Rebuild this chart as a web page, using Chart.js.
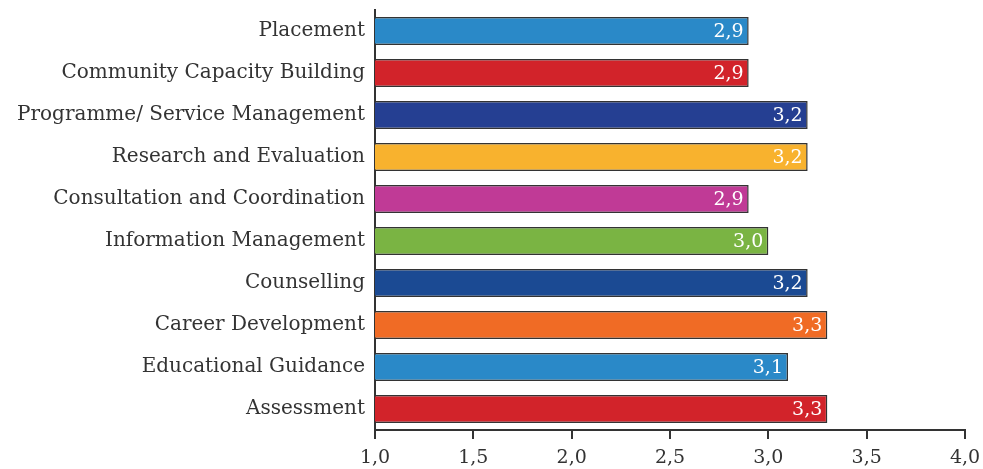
<!DOCTYPE html>
<html>
<head>
<meta charset="utf-8">
<script src="https://cdn.jsdelivr.net/npm/chart.js@4.4.1/dist/chart.umd.min.js"></script>
<style>
  html, body { margin: 0; padding: 0; background: #fff; }
  #wrap { width: 983px; height: 469px; }
</style>
</head>
<body>
<div id="wrap"><canvas id="chart" width="983" height="469"></canvas></div>
<script>
// categories, top to bottom
const categories = [
    'Placement',
    'Community Capacity Building',
    'Programme/ Service Management',
    'Research and Evaluation',
    'Consultation and Coordination',
    'Information Management',
    'Counselling',
    'Career Development',
    'Educational Guidance',
    'Assessment'
];
const scores = [2.9, 2.9, 3.2, 3.2, 2.9, 3.0, 3.2, 3.3, 3.1, 3.3];
const barColors = [
    '#2a89c8', '#d2232a', '#253f92', '#f8b22e', '#c03a96',
    '#7ab443', '#1b4a93', '#f06b25', '#2a89c8', '#d2232a'
];
const xTicks = [1.0, 1.5, 2.0, 2.5, 3.0, 3.5, 4.0];

const FONT = "'DejaVu Serif', serif";
const fmt = v => v.toFixed(1).replace('.', ',');

// white value labels at the end of each bar
const valueLabels = {
    id: 'valueLabels',
    afterDatasetsDraw(chart) {
        const ctx = chart.ctx;
        const meta = chart.getDatasetMeta(0);
        ctx.save();
        ctx.fillStyle = '#ffffff';
        ctx.font = '19px ' + FONT;
        ctx.textAlign = 'right';
        ctx.textBaseline = 'middle';
        meta.data.forEach((bar, i) => {
            ctx.fillText(fmt(scores[i]), bar.x - 5, bar.y + 1);
        });
        ctx.restore();
    }
};

new Chart(document.getElementById('chart'), {
    type: 'bar',
    data: {
        labels: categories,
        datasets: [{
            data: scores,
            backgroundColor: barColors,
            borderColor: '#333333',
            borderWidth: 1.5,
            borderSkipped: false,
            categoryPercentage: 0.67,
            barPercentage: 1.0
        }]
    },
    options: {
        indexAxis: 'y',
        responsive: false,
        animation: false,
        layout: { padding: { top: 10, right: 18, bottom: 0, left: 0 } },
        plugins: {
            legend: { display: false },
            tooltip: { enabled: false }
        },
        scales: {
            x: {
                min: 1,
                max: 4,
                afterBuildTicks: s => { s.ticks = xTicks.map(v => ({ value: v })); },
                afterFit: s => {
                    s.height = 39;
                    s.paddingLeft = 0;
                    s.paddingRight = 0;
                },
                grid: {
                    display: true,
                    drawOnChartArea: false,
                    drawTicks: true,
                    tickLength: 9,
                    color: '#333333',
                    lineWidth: 2
                },
                border: { display: true, color: '#333333', width: 2 },
                ticks: {
                    padding: 8,
                    color: '#333333',
                    font: { family: FONT, size: 19 },
                    maxRotation: 0,
                    callback: v => fmt(v)
                }
            },
            y: {
                afterFit: s => {
                    s.width = 375;
                    s.paddingTop = 0;
                    s.paddingBottom = 0;
                },
                grid: { display: false, drawTicks: false },
                border: { display: true, color: '#333333', width: 2 },
                ticks: {
                    padding: 10,
                    color: '#333333',
                    font: { family: FONT, size: 20 }
                }
            }
        }
    },
    plugins: [valueLabels]
});
</script>
</body>
</html>
